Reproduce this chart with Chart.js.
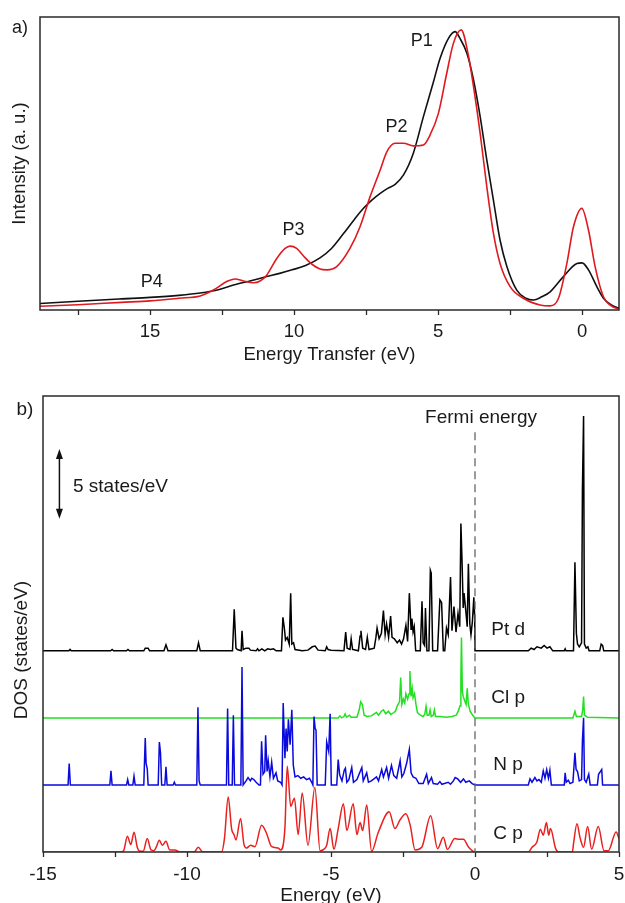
<!DOCTYPE html>
<html><head><meta charset="utf-8">
<script src="https://cdn.jsdelivr.net/npm/chart.js@4.4.1/dist/chart.umd.min.js"></script>
<style>
html,body{margin:0;padding:0;background:#fff;}
#wrap{position:relative;width:625px;height:903px;overflow:hidden;background:#fff;}
canvas{position:absolute;left:0;}
#c1{top:0;} #c2{top:375px;}
</style></head><body>
<div id="wrap"><canvas id="c1" width="625" height="375"></canvas><canvas id="c2" width="625" height="528"></canvas></div>
<script>
// ---------- Panel a) data : [energy transfer (eV), intensity (a.u.)] ----------
const blackCurve = [[18.82,0.022],[17.5,0.03],[16,0.038],[15,0.043],[14,0.05],[13.26,0.058],[12.6,0.07],[12.1,0.085],[11.5,0.1],[10.95,0.114],[10.5,0.125],[10.07,0.137],[9.6,0.152],[9.1,0.178],[8.7,0.21],[8.29,0.26],[7.9,0.31],[7.59,0.347],[7.3,0.375],[7.01,0.398],[6.75,0.415],[6.49,0.429],[6.2,0.461],[5.86,0.535],[5.51,0.66],[5.16,0.779],[4.93,0.859],[4.64,0.927],[4.41,0.95],[4.24,0.927],[4.0,0.876],[3.77,0.785],[3.54,0.66],[3.31,0.512],[3.08,0.375],[2.85,0.239],[2.61,0.148],[2.27,0.068],[1.95,0.04],[1.69,0.034],[1.4,0.045],[1.11,0.062],[0.65,0.114],[0.18,0.159],[0.0,0.161],[-0.22,0.137],[-0.51,0.08],[-0.74,0.04],[-1.0,0.018],[-1.28,0.006]];
const redCurve = [[18.82,0.013],[17.5,0.018],[16,0.026],[15,0.031],[14,0.04],[13.26,0.048],[12.8,0.068],[12.34,0.097],[12.05,0.106],[11.76,0.099],[11.41,0.093],[11.18,0.099],[10.95,0.119],[10.6,0.176],[10.31,0.21],[10.14,0.218],[9.91,0.21],[9.68,0.185],[9.39,0.157],[9.1,0.14],[8.86,0.137],[8.52,0.148],[8.06,0.21],[7.71,0.284],[7.36,0.387],[7.01,0.478],[6.78,0.54],[6.49,0.569],[6.2,0.569],[5.86,0.56],[5.51,0.563],[5.28,0.597],[4.99,0.671],[4.7,0.808],[4.47,0.91],[4.2,0.956],[3.95,0.87],[3.77,0.762],[3.54,0.603],[3.31,0.421],[3.08,0.262],[2.85,0.159],[2.5,0.08],[2.04,0.04],[1.46,0.017],[1.11,0.014],[0.82,0.04],[0.53,0.159],[0.3,0.284],[0.01,0.347],[-0.22,0.273],[-0.45,0.148],[-0.74,0.045],[-1.0,0.015],[-1.28,0.002]];
const topMajorTicks = [0, 5, 10, 15];
const topMinorTicks = [2.5, 7.5, 12.5, 17.5];
const peakNames = ['P1', 'P2', 'P3', 'P4'];
const peakEnergy = [5.57, 6.44, 10.02, 14.94];
const peakIntensity = [0.919, 0.625, 0.273, 0.097];

// ---------- Panel b) data : [energy (eV), DOS (states/eV)] ----------
const ptdDos = [[-15,0],[-14.1,0],[-14.06,0.1],[-14.02,0],[-12.65,0],[-12.6,0.1],[-12.55,0],[-12.1,0],[-12.05,0.1],[-12.0,0],[-11.5,0],[-11.45,0.2],[-11.35,0.2],[-11.3,0],[-10.8,0],[-10.73,0.45],[-10.66,0],[-9.66,0],[-9.6,0.6],[-9.54,0],[-8.42,0],[-8.36,3.1],[-8.3,0.2],[-8.25,0.1],[-8.12,0],[-8.09,1.5],[-8.05,0.1],[-7.95,0.2],[-7.85,0.2],[-7.8,0.05],[-7.6,0],[-7.55,0.15],[-7.5,0],[-7.4,0.15],[-7.3,0],[-7.2,0.15],[-7.1,0.1],[-7.0,0.15],[-6.9,0],[-6.72,0],[-6.67,2.5],[-6.62,1.7],[-6.58,0.8],[-6.52,1.0],[-6.45,0.5],[-6.4,4.3],[-6.36,0.5],[-6.3,0.6],[-6.25,0.1],[-6.0,0],[-5.8,0.05],[-5.65,0.3],[-5.55,0.35],[-5.45,0.05],[-5.2,0],[-5.15,0.3],[-5.1,0.1],[-5.0,0.05],[-4.55,0],[-4.49,1.4],[-4.44,0.2],[-4.34,0.1],[-4.3,0.9],[-4.25,0.1],[-4.05,0],[-3.99,1.1],[-3.96,1.5],[-3.9,0.2],[-3.8,0.1],[-3.74,1.0],[-3.68,0.1],[-3.5,0.2],[-3.44,1.0],[-3.4,1.7],[-3.33,0.9],[-3.25,1.3],[-3.18,3.0],[-3.12,1.2],[-3.07,2.0],[-3.0,1.0],[-2.93,2.6],[-2.88,1.0],[-2.8,0.9],[-2.7,0.6],[-2.62,0.8],[-2.55,0.5],[-2.48,0.9],[-2.4,1.9],[-2.34,0.7],[-2.28,4.3],[-2.22,1.6],[-2.19,2.4],[-2.15,1.4],[-2.11,1.8],[-2.06,0],[-1.9,0],[-1.84,3.7],[-1.8,0.6],[-1.75,0.4],[-1.72,3.2],[-1.67,0],[-1.6,0],[-1.55,6.0],[-1.52,5.8],[-1.47,0],[-1.3,0],[-1.22,3.8],[-1.16,3.6],[-1.1,0],[-1.05,0],[-0.99,1.7],[-0.93,1.2],[-0.85,5.5],[-0.8,1.5],[-0.73,3.3],[-0.66,1.4],[-0.59,2.8],[-0.53,1.8],[-0.49,9.5],[-0.45,6.7],[-0.41,3.2],[-0.38,4.3],[-0.32,3.0],[-0.27,1.8],[-0.23,6.5],[-0.18,2.0],[-0.14,1.2],[-0.09,2.2],[-0.04,4.0],[-0.01,2.5],[0.0,0],[1.85,0],[1.95,0.2],[2.05,0.1],[2.15,0.3],[2.3,0.2],[2.4,0.4],[2.5,0.2],[2.6,0.3],[2.7,0],[3.1,0],[3.13,0.15],[3.16,0],[3.42,0],[3.47,6.6],[3.52,1.3],[3.56,0.5],[3.62,0.3],[3.7,0.6],[3.73,12],[3.77,17.5],[3.8,0.5],[3.86,0.2],[3.92,0.3],[3.96,0],[4.33,0],[4.38,0.5],[4.43,0.4],[4.47,0],[5,0]];
const clpDos = [[-15,0],[-4.75,0],[-4.69,0.15],[-4.63,0],[-4.55,0.1],[-4.51,0.3],[-4.46,0.05],[-4.36,0.2],[-4.3,0.05],[-4.1,0.05],[-4.02,0.6],[-3.97,1.2],[-3.91,1.0],[-3.85,0.2],[-3.75,0.1],[-3.6,0.15],[-3.5,0.3],[-3.42,0.4],[-3.35,0.2],[-3.25,0.5],[-3.18,0.6],[-3.1,0.3],[-3.01,0.5],[-2.92,0.25],[-2.82,0.4],[-2.76,0.5],[-2.7,0.9],[-2.62,1.2],[-2.58,3.0],[-2.54,1.0],[-2.49,1.4],[-2.44,1.1],[-2.40,1.8],[-2.34,1.4],[-2.29,1.8],[-2.26,3.5],[-2.22,1.6],[-2.18,2.2],[-2.15,1.5],[-2.1,1.8],[-2.05,1.0],[-2.0,0.4],[-1.9,0.2],[-1.8,0.1],[-1.74,0.3],[-1.70,0.85],[-1.66,0.2],[-1.6,0.2],[-1.56,0.6],[-1.52,0.1],[-1.45,0.2],[-1.41,0.6],[-1.37,0.1],[-1.2,0.1],[-1.0,0.05],[-0.8,0.1],[-0.65,0.2],[-0.58,0.5],[-0.52,0.9],[-0.49,3.0],[-0.47,6.0],[-0.44,2.0],[-0.41,1.6],[-0.36,1.3],[-0.31,1.0],[-0.27,2.2],[-0.23,1.0],[-0.17,0.5],[-0.08,0.2],[0,0],[3.4,0],[3.47,0.5],[3.52,0.1],[3.7,0.1],[3.74,0.6],[3.77,1.6],[3.8,0.2],[3.9,0.05],[5,0]];
const npDos = [[-15,0],[-14.13,0],[-14.09,1.6],[-14.05,0],[-12.68,0],[-12.64,1.05],[-12.6,0],[-12.1,0],[-12.06,0.4],[-12.02,0],[-11.88,0],[-11.84,0.65],[-11.8,0],[-11.5,0],[-11.45,3.5],[-11.42,1.6],[-11.38,1.2],[-11.35,0],[-11.0,0],[-10.96,3.2],[-10.92,2.4],[-10.88,0],[-10.77,0],[-10.73,1.35],[-10.69,0],[-10.48,0],[-10.44,0.2],[-10.4,0],[-9.66,0],[-9.62,5.8],[-9.58,0.3],[-9.54,0],[-8.63,0],[-8.59,5.7],[-8.55,0],[-8.43,0],[-8.39,5.2],[-8.35,0],[-8.13,0],[-8.09,8.8],[-8.05,0],[-7.95,0.3],[-7.88,0.55],[-7.8,0.3],[-7.75,0.5],[-7.68,0.4],[-7.6,0.2],[-7.5,0],[-7.45,0],[-7.41,3.25],[-7.36,0.8],[-7.3,1.0],[-7.27,3.7],[-7.22,1.0],[-7.18,1.8],[-7.12,0.6],[-7.06,1.7],[-7.0,0.5],[-6.91,0.9],[-6.85,0.3],[-6.75,0.2],[-6.7,0],[-6.66,6.1],[-6.6,2.0],[-6.56,4.2],[-6.52,2.5],[-6.48,4.9],[-6.42,3.0],[-6.36,5.6],[-6.31,1.5],[-6.25,0.6],[-6.15,0.7],[-6.05,0.5],[-5.95,0.6],[-5.85,0.4],[-5.75,0.5],[-5.67,0.2],[-5.63,0],[-5.59,5.1],[-5.55,4.2],[-5.52,4.1],[-5.48,0],[-5.2,0],[-5.15,3.2],[-5.08,2.5],[-5.03,5.3],[-4.99,0],[-4.8,0],[-4.75,1.9],[-4.7,0.75],[-4.62,0.3],[-4.54,1.1],[-4.5,1.25],[-4.45,0.2],[-4.38,0.4],[-4.28,1.3],[-4.22,0.2],[-4.1,0.4],[-3.93,1.3],[-3.88,0.3],[-3.76,0.9],[-3.7,0.2],[-3.6,0.3],[-3.42,0.6],[-3.35,0.3],[-3.24,1.15],[-3.18,0.6],[-3.07,1.3],[-3.0,0.5],[-2.9,1.45],[-2.82,0.7],[-2.72,0.5],[-2.6,1.8],[-2.54,0.6],[-2.47,0.85],[-2.37,1.65],[-2.28,2.65],[-2.22,0.9],[-2.15,0.6],[-2.05,0.5],[-1.95,0.1],[-1.8,0.1],[-1.68,0.8],[-1.62,0.1],[-1.51,0.55],[-1.45,0.1],[-1.3,0.05],[-1.22,0.25],[-1.15,0.05],[-0.93,0.2],[-0.85,0.05],[-0.75,0.3],[-0.69,0.55],[-0.6,0.45],[-0.5,0.2],[-0.4,0.45],[-0.32,0.2],[-0.2,0.3],[-0.1,0.1],[0,0],[1.85,0],[1.91,0.45],[1.98,0.2],[2.08,0.55],[2.15,0.3],[2.22,0.4],[2.3,0.2],[2.37,1.05],[2.43,0.5],[2.49,1.15],[2.55,0.5],[2.6,1.1],[2.65,0],[3.1,0],[3.13,0.9],[3.17,0.2],[3.24,0.35],[3.3,0.1],[3.4,0.2],[3.47,2.4],[3.51,1.15],[3.56,1.0],[3.62,0.3],[3.7,0.4],[3.73,3.3],[3.77,5.0],[3.8,0.4],[3.86,0.2],[3.95,0.8],[4.0,0],[4.25,0],[4.29,0.8],[4.4,1.15],[4.43,0],[5,0]];
const cpDos = [[-15,0],[-12.3,0],[-12.2,0.1],[-12.07,1.17],[-11.95,0.55],[-11.84,1.47],[-11.72,0.3],[-11.62,0.05],[-11.52,0.05],[-11.38,1.0],[-11.25,0.15],[-11.15,0.1],[-11.08,0.3],[-10.96,0.87],[-10.86,0.5],[-10.73,0.8],[-10.6,0.15],[-10.42,0.15],[-10.25,0],[-9.75,0],[-9.61,0.35],[-9.45,0],[-8.8,0],[-8.7,1.0],[-8.57,4.1],[-8.45,1.7],[-8.37,1.3],[-8.3,0.9],[-8.14,2.5],[-8.02,0.55],[-7.93,0.3],[-7.79,0.5],[-7.64,0.4],[-7.41,2.0],[-7.24,1.4],[-7.06,0.4],[-6.83,0.3],[-6.75,0.15],[-6.6,1.8],[-6.52,6.4],[-6.4,3.4],[-6.27,4.0],[-6.14,1.3],[-6.0,4.4],[-5.8,0.5],[-5.56,4.8],[-5.38,0.1],[-5.25,0.2],[-5.15,0.5],[-5.03,1.75],[-4.9,0.2],[-4.75,1.75],[-4.57,3.6],[-4.45,1.6],[-4.23,3.6],[-4.1,1.3],[-3.99,2.2],[-3.9,1.6],[-3.76,3.5],[-3.59,0.05],[-3.36,1.45],[-2.98,3.0],[-2.78,1.75],[-2.6,2.4],[-2.4,2.85],[-2.25,2.0],[-2.08,0.15],[-1.85,0.35],[-1.54,2.7],[-1.3,0.25],[-1.1,1.1],[-0.96,0.2],[-0.7,1.0],[-0.55,0.95],[-0.4,0.95],[-0.22,0.35],[0,0],[1.85,0],[1.98,0.35],[2.15,0.75],[2.27,1.7],[2.37,1.25],[2.48,2.2],[2.56,1.25],[2.62,1.75],[2.8,0.25],[2.9,0],[3.38,0],[3.42,0.6],[3.54,2.1],[3.65,1.05],[3.77,0.35],[3.91,1.9],[4.05,0.2],[4.28,1.9],[4.48,0.1],[4.63,0.1],[4.9,1.5],[5.0,1.0]];
const dosNames = ['Pt d', 'Cl p', 'N p', 'C p'];
const dosOffsets = [15, 10, 5, 0];
const dosLabelY = [16.6, 11.5, 6.5, 1.35];
const bottomMajorTicks = [-15, -10, -5, 0, 5];
const bottomMinorTicks = [-12.5, -7.5, -2.5, 2.5];

// ---------- styling ----------
const FONT = "'Liberation Sans', Arial, Helvetica, sans-serif";
Chart.defaults.font.family = FONT;
Chart.defaults.color = '#1a1a1a';
const AXIS = '#2a2a2a';

const frame = {
  id: 'frame',
  afterDatasetsDraw(chart) {
    const {ctx, chartArea: a} = chart;
    ctx.save(); ctx.strokeStyle = AXIS; ctx.lineWidth = 1.5;
    ctx.strokeRect(a.left, a.top, a.right - a.left, a.bottom - a.top);
    ctx.restore();
  }
};

function xAxis(min, max, reverse, major, minor, height, size, title, tpad, lh) {
  const all = major.concat(minor);
  return {
    type: 'linear', min, max, reverse,
    afterBuildTicks: s => { s.ticks = all.map(v => ({value: v})); },
    afterFit: s => { s.height = height; s.paddingLeft = 0; s.paddingRight = 0; },
    ticks: { autoSkip: false, maxRotation: 0, padding: 6, font: {size}, color: '#1a1a1a',
      callback: v => major.includes(v) ? String(v) : '' },
    grid: { display: true, drawOnChartArea: false, drawTicks: true, tickLength: 5, tickColor: AXIS, tickWidth: 1.3 },
    border: { display: false },
    title: { display: true, text: title, font: {size, lineHeight: lh}, padding: {top: 0, bottom: tpad}, color: '#1a1a1a' }
  };
}

// ---------- Panel a) ----------
const topAnno = {
  id: 'topAnno',
  afterDraw(chart) {
    const {ctx, scales: {x, y}} = chart;
    ctx.save();
    ctx.fillStyle = '#1a1a1a'; ctx.textAlign = 'center'; ctx.textBaseline = 'middle';
    ctx.font = '18px ' + FONT;
    peakNames.forEach((n, i) => ctx.fillText(n, x.getPixelForValue(peakEnergy[i]), y.getPixelForValue(peakIntensity[i])));
    ctx.fillText('a)', 20, 28);
    ctx.restore();
  }
};

new Chart(document.getElementById('c1'), {
  type: 'line',
  data: { datasets: [
    { label: 'red', data: redCurve.map(p => ({x: p[0], y: p[1]})), borderColor: '#e0191f', borderWidth: 1.6,
      pointRadius: 0, cubicInterpolationMode: 'monotone', order: 0 },
    { label: 'black', data: blackCurve.map(p => ({x: p[0], y: p[1]})), borderColor: '#111111', borderWidth: 1.6,
      pointRadius: 0, cubicInterpolationMode: 'monotone', order: 1 }
  ]},
  options: {
    responsive: false, animation: false, events: [],
    layout: { autoPadding: false, padding: {left: 0, top: 17, right: 6, bottom: 0} },
    plugins: { legend: {display: false}, tooltip: {enabled: false} },
    scales: {
      x: xAxis(-1.28, 18.82, true, topMajorTicks, topMinorTicks, 65, 18.5, 'Energy Transfer (eV)', 9, 1.2),
      y: { min: 0, max: 1, afterFit: s => { s.width = 40; }, ticks: {display: false}, grid: {display: false},
        border: {display: false},
        title: { display: true, text: 'Intensity (a. u.)', font: {size: 18.5}, padding: {top: 9, bottom: 0}, color: '#1a1a1a' } }
    }
  },
  plugins: [frame, topAnno]
});

// ---------- Panel b) ----------
const dosColors = ['#000000', '#22e022', '#0a0adc', '#e8211f'];
const dosSeries = [ptdDos, clpDos, npDos, cpDos];

const bottomAnno = {
  id: 'bottomAnno',
  afterDraw(chart) {
    const {ctx, scales: {x, y}, chartArea: a} = chart;
    ctx.save();
    const x0 = x.getPixelForValue(0);
    ctx.strokeStyle = '#666'; ctx.lineWidth = 1.3; ctx.setLineDash([8, 5]);
    ctx.beginPath(); ctx.moveTo(x0, y.getPixelForValue(31.3)); ctx.lineTo(x0, a.bottom); ctx.stroke();
    ctx.setLineDash([]);
    ctx.fillStyle = '#1a1a1a'; ctx.textBaseline = 'middle';
    ctx.font = '19px ' + FONT;
    ctx.textAlign = 'center';
    ctx.fillText('Fermi energy', x.getPixelForValue(0.21), y.getPixelForValue(32.4));
    dosNames.forEach((n, i) => ctx.fillText(n, x.getPixelForValue(1.15), y.getPixelForValue(dosLabelY[i])));
    ctx.textAlign = 'left';
    ctx.fillText('5 states/eV', x.getPixelForValue(-13.96), y.getPixelForValue(27.26));
    const ax = x.getPixelForValue(-14.43), y1 = y.getPixelForValue(24.85), y2 = y.getPixelForValue(30.05);
    ctx.strokeStyle = '#111'; ctx.fillStyle = '#111'; ctx.lineWidth = 1.5;
    ctx.beginPath(); ctx.moveTo(ax, y1 - 8); ctx.lineTo(ax, y2 + 8); ctx.stroke();
    ctx.beginPath(); ctx.moveTo(ax, y2); ctx.lineTo(ax - 3.5, y2 + 10); ctx.lineTo(ax + 3.5, y2 + 10); ctx.closePath(); ctx.fill();
    ctx.beginPath(); ctx.moveTo(ax, y1); ctx.lineTo(ax - 3.5, y1 - 10); ctx.lineTo(ax + 3.5, y1 - 10); ctx.closePath(); ctx.fill();
    ctx.fillStyle = '#1a1a1a'; ctx.textAlign = 'center';
    ctx.fillText('b)', 25, 35);
    ctx.translate(22, 275); ctx.rotate(-Math.PI / 2);
    ctx.fillText('DOS (states/eV)', 0, 0);
    ctx.restore();
  }
};

new Chart(document.getElementById('c2'), {
  type: 'line',
  data: { datasets: dosSeries.map((s, i) => ({
    label: dosNames[i],
    data: s.map(p => ({x: p[0], y: p[1] + dosOffsets[i]})),
    borderColor: dosColors[i], borderWidth: 1.5, pointRadius: 0,
    tension: 0, cubicInterpolationMode: i === 3 ? 'monotone' : 'default',
    order: 3 - i
  })) },
  options: {
    responsive: false, animation: false, events: [],
    layout: { autoPadding: false, padding: {left: 0, top: 21, right: 6, bottom: 0} },
    plugins: { legend: {display: false}, tooltip: {enabled: false} },
    scales: {
      x: xAxis(-15, 5, false, bottomMajorTicks, bottomMinorTicks, 51, 19, 'Energy (eV)', 0, 0.8),
      y: { min: 0, max: 34, afterFit: s => { s.width = 43; }, ticks: {display: false}, grid: {display: false},
        border: {display: false}, title: {display: false} }
    }
  },
  plugins: [frame, bottomAnno]
});
</script></body></html>
